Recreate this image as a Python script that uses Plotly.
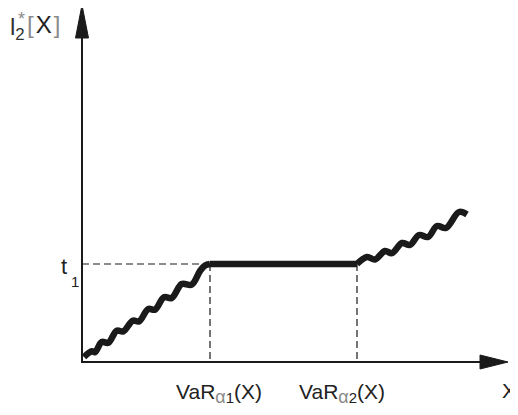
import plotly.graph_objects as go

# ---- data (abstract units: origin at 0,0) ----
var_alpha1 = 128          # VaR_alpha1(X)
var_alpha2 = 275          # VaR_alpha2(X)
t1 = 98                   # level t_1

# wavy rising part before VaR_alpha1 (crest / trough points)
left_x = [2, 9.7, 13, 19.7, 26.3, 34.7, 41.3, 50.7, 57, 66.3, 73, 82, 89.7, 99.7, 109.7, 118, 123, 128]
left_y = [5, 10.7, 9.8, 20, 19.2, 31.3, 30.6, 41.3, 40.6, 53, 52.3, 64.7, 64, 78, 77.3, 91, 96.5, 98]

# flat part between the two VaR levels
flat_x = [var_alpha1, var_alpha2]
flat_y = [t1, t1]

# wavy rising part after VaR_alpha2
right_x = [275, 285, 293, 303, 310, 320, 328, 337, 346, 355, 364, 377, 385]
right_y = [98, 105, 102.5, 111, 108.8, 119, 117, 127, 125, 136, 134, 150, 147.5]

x_axis_end = 426
y_axis_end = 357

fig = go.Figure()

ink = "#1a1a1a"

# dashed guide lines
fig.add_trace(go.Scatter(x=[0, var_alpha1], y=[t1, t1], mode="lines",
                         line=dict(color=ink, width=1.2, dash="7px,4px"), hoverinfo="skip"))
fig.add_trace(go.Scatter(x=[var_alpha1, var_alpha1], y=[t1, 0], mode="lines",
                         line=dict(color=ink, width=1.2, dash="7px,4px"), hoverinfo="skip"))
fig.add_trace(go.Scatter(x=[var_alpha2, var_alpha2], y=[t1, 0], mode="lines",
                         line=dict(color=ink, width=1.2, dash="7px,4px"), hoverinfo="skip"))

# axes lines
fig.add_trace(go.Scatter(x=[0, x_axis_end - 26], y=[0, 0], mode="lines",
                         line=dict(color=ink, width=2), hoverinfo="skip"))
fig.add_trace(go.Scatter(x=[0, 0], y=[-1, y_axis_end - 28], mode="lines",
                         line=dict(color=ink, width=2), hoverinfo="skip"))

# arrowheads
fig.add_trace(go.Scatter(x=[x_axis_end, x_axis_end - 28, x_axis_end - 28, x_axis_end],
                         y=[0, 7, -7, 0], mode="lines", fill="toself",
                         fillcolor=ink, line=dict(color=ink, width=1), hoverinfo="skip"))
fig.add_trace(go.Scatter(x=[0, -6.5, 6.5, 0],
                         y=[y_axis_end, y_axis_end - 33, y_axis_end - 33, y_axis_end],
                         mode="lines", fill="toself",
                         fillcolor=ink, line=dict(color=ink, width=1), hoverinfo="skip"))

# the curve
fig.add_trace(go.Scatter(x=left_x, y=left_y, mode="lines",
                         line=dict(color=ink, width=6.5, shape="spline", smoothing=1), hoverinfo="skip"))
fig.add_trace(go.Scatter(x=flat_x, y=flat_y, mode="lines",
                         line=dict(color=ink, width=6.5), hoverinfo="skip"))
fig.add_trace(go.Scatter(x=right_x, y=right_y, mode="lines",
                         line=dict(color=ink, width=6.5, shape="spline", smoothing=1), hoverinfo="skip"))

font = "Liberation Sans, Arial, sans-serif"
gray = "#8a8a8a"
ann = []
# y-axis label  l2*[X]
ann.append(dict(x=-74, y=334, text="l<sub>2</sub>", xanchor="left", yanchor="middle",
                font=dict(size=24, color="#333")))
ann.append(dict(x=-66, y=343, text="*", xanchor="left", yanchor="middle",
                font=dict(size=18, color=gray)))
ann.append(dict(x=-57, y=338,
                text="<span style='color:%s'>[</span>\u200aX\u200a<span style='color:%s'>]</span>" % (gray, gray),
                xanchor="left", yanchor="middle", font=dict(size=24, color="#222")))
# t1
ann.append(dict(x=-23, y=t1 - 2, text="t", xanchor="left", yanchor="middle",
                font=dict(size=22, color="#222")))
ann.append(dict(x=-13, y=t1 - 17, text="1", xanchor="left", yanchor="middle",
                font=dict(size=15, color="#222")))
# VaR labels
lab1 = ("VaR<sub><span style='color:%s;font-size:18px'>α</span>"
        "<span style='font-size:15px'>1</span></sub>(X)") % gray
lab2 = ("VaR<sub><span style='color:%s;font-size:18px'>α</span>"
        "<span style='font-size:15px'>2</span></sub>(X)") % gray
ann.append(dict(x=var_alpha1 - 36, y=-31, text=lab1, xanchor="left", yanchor="middle",
                font=dict(size=21, color="#222")))
ann.append(dict(x=var_alpha2 - 60, y=-31, text=lab2, xanchor="left", yanchor="middle",
                font=dict(size=21, color="#222")))
ann.append(dict(x=1, xref="paper", y=-28, text="X", xanchor="right", yanchor="middle",
                font=dict(size=21, color="#222")))
for a in ann:
    a.setdefault("xref", "x")
    a.update(showarrow=False, yref="y")
    a["font"]["family"] = font

# the page adds an 8px body margin, so the figure is 8px smaller and the ranges shifted
fig.update_layout(
    width=510, height=399,
    margin=dict(l=0, r=0, t=0, b=0),
    paper_bgcolor="white", plot_bgcolor="white",
    showlegend=False,
    xaxis=dict(range=[-74, 436], visible=False, fixedrange=True),
    yaxis=dict(range=[-45, 354], visible=False, fixedrange=True),
    annotations=ann,
)

fig.write_html("out.html")
